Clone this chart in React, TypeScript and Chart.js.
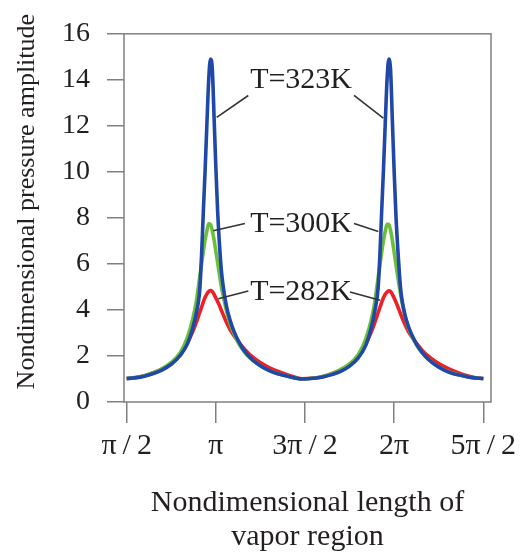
import React, { useEffect, useRef } from 'react';
import { Chart, registerables } from 'chart.js';

Chart.register(...registerables);

// Nondimensional length of vapor region, in multiples of π
const vaporLengths = [
  0.50, 0.55, 0.60, 0.65, 0.70, 0.75, 0.80, 0.84, 0.87, 0.89,
  0.91, 0.92, 0.93, 0.94, 0.95, 0.96, 0.97, 0.98, 0.99, 1.00,
  1.01, 1.02, 1.03, 1.04, 1.06, 1.08, 1.10, 1.13, 1.16, 1.19,
  1.23, 1.27, 1.32, 1.38, 1.43, 1.48,
  1.55, 1.60, 1.65, 1.70, 1.75, 1.80, 1.84, 1.87, 1.89,
  1.91, 1.92, 1.93, 1.94, 1.95, 1.96, 1.97, 1.98, 1.99, 2.00,
  2.01, 2.02, 2.03, 2.04, 2.06, 2.08, 2.10, 2.13, 2.16, 2.19,
  2.23, 2.27, 2.32, 2.38, 2.43, 2.48, 2.50,
];

const amplitude323K = [
  1.02, 1.05, 1.12, 1.24, 1.40, 1.64, 2.02, 2.52, 3.20, 3.85,
  4.90, 6.40, 8.30, 10.1, 12.1, 14.0, 14.9, 14.5, 12.4, 10.2,
  8.3, 6.9, 5.8, 5.1, 4.15, 3.55, 3.10, 2.60, 2.22, 1.95,
  1.68, 1.48, 1.30, 1.16, 1.07, 1.00,
  1.03, 1.09, 1.19, 1.33, 1.56, 1.93, 2.45, 3.18, 3.90,
  4.95, 6.40, 8.30, 10.1, 12.1, 14.0, 14.9, 14.4, 12.2, 10.0,
  8.1, 6.7, 5.5, 4.65, 3.80, 3.28, 2.90, 2.45, 2.12, 1.87,
  1.62, 1.43, 1.26, 1.15, 1.07, 1.03, 1.02,
];

const amplitude300K = [
  1.02, 1.06, 1.14, 1.27, 1.45, 1.72, 2.14, 2.80, 3.60, 4.35,
  5.45, 6.00, 6.55, 7.05, 7.45, 7.74, 7.72, 7.45, 7.05, 6.55,
  6.05, 5.55, 5.05, 4.65, 3.95, 3.40, 3.00, 2.52, 2.18, 1.93,
  1.68, 1.48, 1.30, 1.16, 1.07, 1.00,
  1.04, 1.11, 1.23, 1.41, 1.66, 2.08, 2.72, 3.52, 4.28,
  5.40, 5.95, 6.50, 7.02, 7.42, 7.72, 7.72, 7.45, 7.02, 6.50,
  5.98, 5.45, 4.95, 4.50, 3.78, 3.22, 2.85, 2.42, 2.10, 1.86,
  1.62, 1.44, 1.27, 1.15, 1.07, 1.03, 1.02,
];

const amplitude282K = [
  1.02, 1.06, 1.14, 1.27, 1.44, 1.68, 2.06, 2.56, 3.05, 3.45,
  3.90, 4.12, 4.35, 4.55, 4.70, 4.80, 4.84, 4.80, 4.68, 4.52,
  4.36, 4.20, 4.00, 3.82, 3.45, 3.15, 2.90, 2.58, 2.30, 2.06,
  1.82, 1.62, 1.42, 1.24, 1.11, 1.01,
  1.04, 1.11, 1.23, 1.40, 1.63, 2.00, 2.50, 3.02, 3.42,
  3.88, 4.10, 4.33, 4.53, 4.68, 4.78, 4.83, 4.80, 4.68, 4.52,
  4.34, 4.15, 3.95, 3.75, 3.38, 3.06, 2.82, 2.50, 2.22, 2.00,
  1.77, 1.58, 1.39, 1.21, 1.10, 1.03, 1.02,
];

const xTickValues = [0.5, 1, 1.5, 2, 2.5];
const xTickLabels = ['π\u2009/\u20092', 'π', '3π\u2009/\u20092', '2π', '5π\u2009/\u20092'];
const yTickValues = [0, 2, 4, 6, 8, 10, 12, 14, 16];

const seriesLabels = ['T=323K', 'T=300K', 'T=282K'];
const seriesColors = ['#1f48a8', '#6cbf3a', '#ec2027'];

// Label placement (data units) and leader lines (data units: x1, y1, x2, y2)
const labelAnchors = [
  { x: 1.478, y: 14.0 },
  { x: 1.478, y: 7.75 },
  { x: 1.478, y: 4.76 },
];
const leaderSegments = [
  [[1.182, 13.32, 1.005, 12.37], [1.775, 13.32, 1.939, 12.34]],
  [[1.163, 7.76, 0.986, 7.44], [1.775, 7.76, 1.911, 7.41]],
  [[1.182, 4.82, 1.014, 4.49], [1.752, 4.78, 1.921, 4.42]],
];

const FONT = '"Liberation Serif", "DejaVu Serif", "Times New Roman", serif';
const TEXT = '#231f20';
const AXIS = '#808080';

const framePlugin = {
  id: 'frameBox',
  beforeDatasetsDraw(chart: any) {
    const { ctx, chartArea: a } = chart;
    ctx.save();
    ctx.strokeStyle = AXIS;
    ctx.lineWidth = 1.5;
    ctx.strokeRect(a.left, a.top, a.right - a.left, a.bottom - a.top);
    ctx.restore();
  },
};

const curveLabelPlugin = {
  id: 'curveLabels',
  afterDatasetsDraw(chart: any) {
    const { ctx } = chart;
    const xs = chart.scales.x;
    const ys = chart.scales.y;
    ctx.save();
    ctx.font = `30px ${FONT}`;
    ctx.fillStyle = TEXT;
    ctx.textAlign = 'center';
    ctx.textBaseline = 'middle';
    ctx.strokeStyle = '#333333';
    ctx.lineWidth = 1.6;
    seriesLabels.forEach((t, i) => {
      const p = labelAnchors[i];
      ctx.fillText(t, xs.getPixelForValue(p.x), ys.getPixelForValue(p.y));
      leaderSegments[i].forEach((s) => {
        ctx.beginPath();
        ctx.moveTo(xs.getPixelForValue(s[0]), ys.getPixelForValue(s[1]));
        ctx.lineTo(xs.getPixelForValue(s[2]), ys.getPixelForValue(s[3]));
        ctx.stroke();
      });
    });
    ctx.restore();
  },
};

export default function App() {
  const canvasRef = useRef<HTMLCanvasElement | null>(null);

  useEffect(() => {
    const canvas = canvasRef.current;
    if (!canvas) return;
    const series = [amplitude323K, amplitude300K, amplitude282K];
    const chart = new Chart(canvas, {
      type: 'line',
      data: {
        datasets: series.map((vals, i) => ({
          label: seriesLabels[i],
          data: vaporLengths.map((x, j) => ({ x, y: vals[j] })),
          borderColor: seriesColors[i],
          backgroundColor: seriesColors[i],
          borderWidth: 3.6,
          pointRadius: 0,
          fill: false,
          cubicInterpolationMode: 'monotone' as const,
        })),
      },
      options: {
        responsive: false,
        animation: false,
        devicePixelRatio: 1,
        layout: { padding: { top: 32, right: 33, bottom: 0, left: 0 } },
        plugins: { legend: { display: false }, tooltip: { enabled: false } },
        scales: {
          x: {
            type: 'linear',
            min: 0.485,
            max: 2.543,
            afterBuildTicks: (s: any) => {
              s.ticks = xTickValues.map((v) => ({ value: v }));
            },
            afterFit: (s: any) => {
              s.height = 152;
            },
            ticks: {
              callback: (_v: any, i: number) => xTickLabels[i],
              font: { family: FONT, size: 30 },
              color: TEXT,
              padding: 5,
              maxRotation: 0,
              autoSkip: false,
            },
            grid: {
              drawOnChartArea: false,
              drawTicks: true,
              tickLength: 21,
              color: AXIS,
              lineWidth: 1.5,
            },
            border: { display: false },
            title: {
              display: true,
              text: ['Nondimensional length of', 'vapor region'],
              font: { family: FONT, size: 30, lineHeight: 1.13 },
              color: TEXT,
              padding: { top: 0, bottom: 0 },
            },
          },
          y: {
            type: 'linear',
            min: 0,
            max: 16,
            afterBuildTicks: (s: any) => {
              s.ticks = yTickValues.map((v) => ({ value: v }));
            },
            afterFit: (s: any) => {
              s.width = 124;
            },
            ticks: {
              font: { family: FONT, size: 28 },
              color: TEXT,
              padding: 17,
            },
            grid: {
              drawOnChartArea: false,
              drawTicks: true,
              tickLength: 17,
              color: AXIS,
              lineWidth: 1.5,
            },
            border: { display: false },
            title: {
              display: true,
              text: '\u2002\u2002 Nondimensional pressure amplitude',
              font: { family: FONT, size: 26 },
              color: TEXT,
              padding: { top: 12, bottom: 0 },
            },
          },
        },
      },
      plugins: [framePlugin, curveLabelPlugin],
    });
    return () => chart.destroy();
  }, []);

  return (
    <div style={{ position: 'absolute', left: 0, top: 0, width: 524, height: 554, background: '#fff' }}>
      <canvas ref={canvasRef} width={524} height={554} style={{ width: 524, height: 554, display: 'block' }} />
    </div>
  );
}
